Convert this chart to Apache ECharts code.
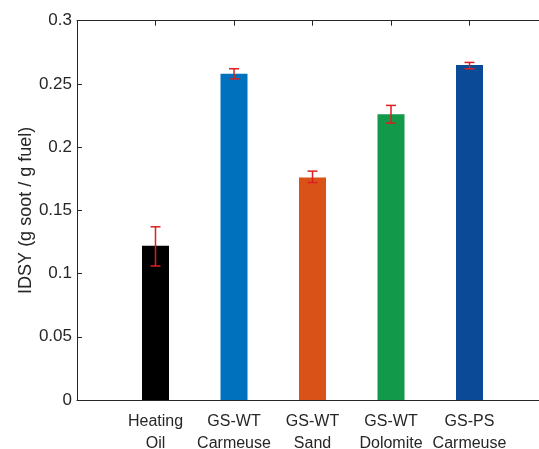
<!DOCTYPE html>
<html><head><meta charset="utf-8">
<script src="https://cdn.jsdelivr.net/npm/echarts@6/dist/echarts.min.js"></script>
<style>html,body{margin:0;padding:0;background:#fff}#c{width:539px;height:449px}</style>
</head><body><div id="c"></div>
<script>
var categories = ['Heating\nOil', 'GS-WT\nCarmeuse', 'GS-WT\nSand', 'GS-WT\nDolomite', 'GS-PS\nCarmeuse'];
var values = [0.122, 0.258, 0.176, 0.226, 0.265];
var errLow = [0.106, 0.254, 0.172, 0.219, 0.262];
var errHigh = [0.137, 0.262, 0.181, 0.233, 0.267];
var colors = ['#000000', '#0072BD', '#D95319', '#12994A', '#0B4A96'];
var yTicks = [0, 0.05, 0.1, 0.15, 0.2, 0.25, 0.3];

var axisData = [''].concat(categories, ['']);
var barData = [{value: null}];
values.forEach(function (v, i) { barData.push({value: v, itemStyle: {color: colors[i]}}); });
barData.push({value: null});
var errData = values.map(function (v, i) { return [i + 1, errLow[i], errHigh[i]]; });

var txt = '#262626';
var chart = echarts.init(document.getElementById('c'));
chart.setOption({
  animation: false,
  grid: {left: 77, right: -9, top: 20.7, bottom: 49, containLabel: false, outerBoundsMode: 'none'},
  xAxis: [{
    type: 'category', data: axisData, boundaryGap: false, position: 'bottom',
    axisLine: {lineStyle: {color: txt, width: 1}},
    axisTick: {inside: true, length: 5, lineStyle: {color: txt}, interval: 0},
    axisLabel: {color: txt, fontFamily: 'Liberation Sans', fontSize: 16, lineHeight: 22, margin: 11, interval: 0},
    splitLine: {show: false}
  }, {
    type: 'category', data: axisData, boundaryGap: false, position: 'top',
    axisLine: {lineStyle: {color: txt, width: 1}},
    axisTick: {inside: true, length: 5, lineStyle: {color: txt}, interval: 0},
    axisLabel: {show: false},
    splitLine: {show: false}
  }],
  yAxis: {
    type: 'value', min: yTicks[0], max: yTicks[yTicks.length - 1], interval: 0.05,
    name: 'IDSY (g soot / g fuel)', nameLocation: 'middle', nameGap: 42, nameRotate: 90,
    nameMoveOverlap: false,
    nameTextStyle: {color: txt, fontFamily: 'Liberation Sans', fontSize: 18},
    axisLine: {show: true, lineStyle: {color: txt, width: 1}},
    axisTick: {show: true, inside: true, length: 5, lineStyle: {color: txt}},
    axisLabel: {color: txt, fontFamily: 'Liberation Sans', fontSize: 17, margin: 5,
      formatter: function (v) { return String(+v.toFixed(2)); }},
    splitLine: {show: false}
  },
  series: [{
    type: 'bar', data: barData, barWidth: 27, xAxisIndex: 0
  }, {
    type: 'custom', xAxisIndex: 0, data: errData, z: 10,
    renderItem: function (params, api) {
      var x = api.value(0);
      var lo = api.coord([x, api.value(1)]);
      var hi = api.coord([x, api.value(2)]);
      var hw = 5;
      var st = {stroke: '#DC1F1F', lineWidth: 1.5};
      return {type: 'group', children: [
        {type: 'line', shape: {x1: lo[0], y1: lo[1], x2: hi[0], y2: hi[1]}, style: st},
        {type: 'line', shape: {x1: lo[0] - hw, y1: lo[1], x2: lo[0] + hw, y2: lo[1]}, style: st},
        {type: 'line', shape: {x1: hi[0] - hw, y1: hi[1], x2: hi[0] + hw, y2: hi[1]}, style: st}
      ]};
    }
  }]
});
</script></body></html>
